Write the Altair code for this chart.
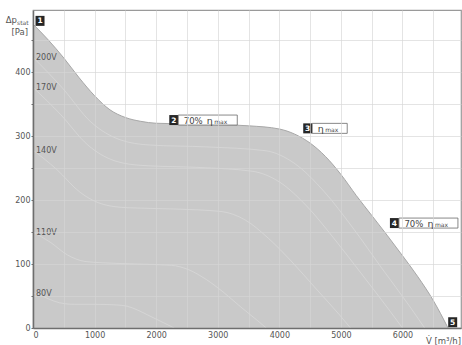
import altair as alt
import pandas as pd

# Fan characteristic: maximum curve (air flow in m³/h, static pressure in Pa)
flow = [0, 250, 500, 750, 1000, 1250, 1500, 1750, 2000, 2500, 3000, 3500,
        4000, 4250, 4500, 4750, 5000, 5250, 5500, 5750, 6000, 6250, 6500, 6740]
pressure = [475, 450, 422, 391, 363, 341, 329, 323, 320, 319, 318, 316,
            311, 303, 289, 268, 240, 207, 176, 145, 113, 80, 43, 0]

# Speed-controlled curves at reduced supply voltage
volt_names = ["200V", "170V", "140V", "110V", "80V"]
volt_flow = [
    [0, 470, 940, 1420, 1890, 2830, 3780, 4250, 4720, 5190, 5660, 6130, 6360],
    [0, 445, 890, 1335, 1780, 2670, 3560, 4005, 4450, 4895, 5340, 5785, 6000],
    [0, 383, 765, 1148, 1530, 2295, 3060, 3443, 3825, 4208, 4590, 4973, 5156],
    [0, 281, 562, 843, 1124, 1686, 2248, 2529, 2810, 3091, 3372, 3653, 3788],
    [0, 170, 340, 510, 680, 1020, 1360, 1530, 1700, 1870, 2040, 2210, 2292],
]
volt_pressure = [
    [423, 376, 322, 294, 286, 283, 277, 257, 214, 157, 94, 32, 0],
    [376, 334, 286, 261, 254, 251, 245, 228, 190, 139, 84, 28, 0],
    [278, 248, 212, 193, 188, 186, 182, 169, 140, 103, 62, 21, 0],
    [150, 134, 114, 104, 102, 100, 98, 91, 76, 56, 33, 11, 0],
    [55, 49, 42, 38, 37, 37, 36, 34, 28, 20, 12, 4, 0],
]

# Numbered operating-point markers
marker_num = ["1", "2", "3", "4", "5"]
marker_flow = [114, 2286, 4461, 5869, 6815]
marker_pressure = [480, 325, 312, 164, 9]
# which markers carry an efficiency tag
tag_70 = ["2", "4"]
tag_max = ["3"]

X_MAX, Y_MAX = 6950, 497
FONT = "DejaVu Sans"
TXT = "#555555"

curve = pd.DataFrame({"q": flow, "p": pressure})
rows = []
for name, qs, ps in zip(volt_names, volt_flow, volt_pressure):
    for i, (q, p) in enumerate(zip(qs, ps)):
        rows.append({"v": name, "q": q, "p": p, "i": i})
volts = pd.DataFrame(rows)
volt_start = volts[volts["i"] == 0]
markers = pd.DataFrame({"n": marker_num, "q": marker_flow, "p": marker_pressure})
m70 = markers[markers["n"].isin(tag_70)]
mmax = markers[markers["n"].isin(tag_max)]

xs = alt.Scale(domain=[0, X_MAX], nice=False, zero=False)
ys = alt.Scale(domain=[0, Y_MAX], nice=False, zero=False)

x_axis = alt.Axis(
    values=list(range(0, 7000, 500)), labelExpr="datum.value % 1000 == 0 ? datum.label : ''",
    format="d", title=None, grid=True, gridColor="#d6d6d6", gridOpacity=0.65,
    domainColor="#6e6e6e", domainWidth=1.5, tickSize=0, labelPadding=3,
    labelFont=FONT, labelFontSize=8, labelColor=TXT, zindex=1,
)
y_axis = alt.Axis(
    values=list(range(0, 500, 50)), labelExpr="datum.value % 100 == 0 ? datum.label : ''",
    format="d", title=None, grid=True, gridColor="#d6d6d6", gridOpacity=0.65,
    domainColor="#6e6e6e", domainWidth=1.5, tickSize=2, tickColor="#6e6e6e",
    labelPadding=1, labelFont=FONT, labelFontSize=8, labelColor=TXT, zindex=1,
)

X = alt.X("q:Q", scale=xs, axis=x_axis)
Y = alt.Y("p:Q", scale=ys, axis=y_axis)

area = alt.Chart(curve).mark_area(color="#c9c9c9", opacity=1, interpolate="monotone").encode(x=X, y=Y)
edge = alt.Chart(curve).mark_line(color="#a8a8a8", strokeWidth=1, interpolate="monotone").encode(x=X, y=Y)

volt_lines = alt.Chart(volts).mark_line(color="white", strokeWidth=1, opacity=0.22,
                                        interpolate="monotone").encode(
    x=X, y=Y, detail="v:N", order="i:Q")
volt_labels = alt.Chart(volt_start).mark_text(
    align="left", baseline="middle", dx=3, dy=1, font=FONT, fontSize=8, color=TXT
).encode(x=X, y=Y, text="v:N")

# black numbered boxes
mbox = alt.Chart(markers).mark_rect(
    color="#262626", xOffset=-4.5, x2Offset=4.5, yOffset=-5, y2Offset=5
).encode(x=X, x2="q:Q", y=Y, y2="p:Q")
mnum = alt.Chart(markers).mark_text(
    color="white", font=FONT, fontSize=7.5, fontWeight="bold", baseline="middle", dy=0.5
).encode(x=X, y=Y, text="n:N")

def tag(df, width, parts):
    box = alt.Chart(df).mark_rect(
        fill="white", stroke="#6a6a6a", strokeWidth=0.8,
        xOffset=4.5, x2Offset=4.5 + width, yOffset=-5, y2Offset=5,
    ).encode(x=X, x2="q:Q", y=Y, y2="p:Q")
    layers = [box]
    for txt, off, size, dy in parts:
        layers.append(
            alt.Chart(df).mark_text(
                text=txt, align="left", baseline="middle", xOffset=off, dy=dy,
                font=FONT, fontSize=size, color="#444444",
            ).encode(x=X, y=Y)
        )
    return alt.layer(*layers)

tag70 = tag(m70, 59, [("70%", 10, 8.5, 0.5), ("η", 33, 9.5, 1), ("max", 40.5, 6, 2)])
tagmax = tag(mmax, 35, [("η", 10, 9.5, 1), ("max", 17.5, 6, 2)])

# axis titles
def label(text, x, y, size=8, align="left"):
    return alt.Chart(pd.DataFrame({"t": [text]})).mark_text(
        align=align, baseline="alphabetic", font=FONT, fontSize=size, color=TXT
    ).encode(x=alt.value(x), y=alt.value(y), text="t:N")

titles = alt.layer(
    label("Δp", -16, 13, 8.5, "right"),
    label("stat", -16, 15, 6),
    label("[Pa]", -5, 25, 8.5, "right"),
    label("V̇ [m³/h]", 428, 334, 8.5, "right"),
)

chart = alt.layer(
    area, volt_lines, edge, volt_labels, mbox, mnum, tag70, tagmax, titles
).properties(
    width=428, height=318,
    padding={"left": 33, "top": 10, "right": 1, "bottom": 17},
    autosize=alt.AutoSizeParams(type="none"),
    background="white",
).configure_view(stroke="#9a9a9a", strokeWidth=1.2)

chart.save("out.html", embed_options={"renderer": "svg", "actions": False})
